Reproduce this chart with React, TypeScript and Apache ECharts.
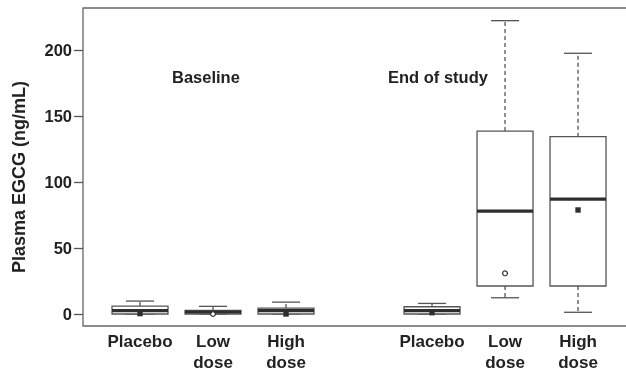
import React, { useEffect, useRef } from "react";
import * as echarts from "echarts";

const positions = [1, 2, 3, 5, 6, 7];
const groupLabels = ["Placebo", "Low\ndose", "High\ndose", "Placebo", "Low\ndose", "High\ndose"];
const mins = [0, 0, 0, 0, 12.3, 1.3];
const q1s = [0, 0, 0, 0, 21.2, 21.2];
const medians = [2.5, 1.5, 2.5, 2.5, 78, 87];
const q3s = [6, 2.7, 4.5, 5.5, 138.6, 134.3];
const maxs = [9.8, 5.8, 9, 8, 222.2, 197.5];
const means = [0.3, 0, 0, 1, 30.8, 78.8];
const meanMarkers = ["square", "circle", "square", "square", "circle", "square"];
const yTicks = [0, 50, 100, 150, 200];
const panelTitles = ["Baseline", "End of study"];
const yTitle = "Plasma EGCG (ng/mL)";

const FONT = "'Liberation Sans', Arial, sans-serif";
const LINE = "#555";
const DARK = "#2e2e2e";

export default function App() {
  const ref = useRef<HTMLDivElement>(null);
  useEffect(() => {
    const chart = echarts.init(ref.current!, null, { renderer: "svg" });
    const data = positions.map((p, i) => [
      p, mins[i], q1s[i], medians[i], q3s[i], maxs[i], means[i], meanMarkers[i] === "circle" ? 1 : 0,
    ]);
    const boxW = 0.767;
    const capW = 0.384;
    chart.setOption({
      animation: false,
      grid: {
        left: 83, top: 8, width: 560, height: 318,
        outerBoundsMode: "none", containLabel: false,
        show: true, borderColor: "#666", borderWidth: 1.3, backgroundColor: "#fff",
      },
      xAxis: {
        type: "value", min: 0.219, max: 7.89,
        axisLine: { show: false }, splitLine: { show: false },
        axisTick: { show: false },
        axisLabel: {
          customValues: positions,
          formatter: (v: number) => {
            const i = positions.indexOf(v);
            return i >= 0 ? groupLabels[i] : "";
          },
          fontFamily: FONT, fontWeight: "bold", fontSize: 17, color: "#222",
          lineHeight: 20.5, margin: 5.5, verticalAlign: "top",
        },
      },
      yAxis: {
        type: "value", min: -9.09, max: 231.8,
        axisLine: { show: false }, splitLine: { show: false },
        axisTick: { show: true, customValues: yTicks, length: 9, lineStyle: { color: LINE, width: 1.3 } },
        axisLabel: {
          customValues: yTicks, margin: 11,
          fontFamily: FONT, fontWeight: "bold", fontSize: 16.5, color: "#222",
        },
      },
      graphic: [
        { type: "text", left: 172, top: 68, style: { text: panelTitles[0], font: `bold 16.5px ${FONT}`, fill: "#222" } },
        { type: "text", left: 388, top: 68, style: { text: panelTitles[1], font: `bold 16.5px ${FONT}`, fill: "#222" } },
        {
          type: "text", x: 19, y: 177, rotation: Math.PI / 2,
          style: { text: yTitle, font: `bold 18px ${FONT}`, fill: "#222", align: "center", verticalAlign: "middle" },
        },
      ],
      series: [
        {
          type: "custom",
          data,
          renderItem: (params: any, api: any) => {
            const x = api.value(0);
            const c = (v: number) => api.coord([x, v]);
            const bw = api.size([boxW, 0])[0];
            const cw = api.size([capW, 0])[0];
            const pMin = c(api.value(1));
            const pQ1 = c(api.value(2));
            const pMed = c(api.value(3));
            const pQ3 = c(api.value(4));
            const pMax = c(api.value(5));
            const pMean = c(api.value(6));
            const shape = api.value(7);
            const px = pMin[0];
            const dashed = { stroke: LINE, lineWidth: 1.3, lineDash: [4, 3] };
            const solid = { stroke: LINE, lineWidth: 1.3 };
            const children: any[] = [
              { type: "line", shape: { x1: px, y1: pQ3[1], x2: px, y2: pMax[1] }, style: dashed },
              { type: "line", shape: { x1: px, y1: pQ1[1], x2: px, y2: pMin[1] }, style: dashed },
              { type: "line", shape: { x1: px - cw / 2, y1: pMax[1], x2: px + cw / 2, y2: pMax[1] }, style: solid },
              { type: "line", shape: { x1: px - cw / 2, y1: pMin[1], x2: px + cw / 2, y2: pMin[1] }, style: solid },
              {
                type: "rect",
                shape: { x: px - bw / 2, y: pQ3[1], width: bw, height: pQ1[1] - pQ3[1] },
                style: { fill: "#fff", stroke: LINE, lineWidth: 1.3 },
              },
              {
                type: "line",
                shape: { x1: px - bw / 2, y1: pMed[1], x2: px + bw / 2, y2: pMed[1] },
                style: { stroke: DARK, lineWidth: 3.2 },
              },
            ];
            if (shape === 1) {
              children.push({
                type: "circle", shape: { cx: px, cy: pMean[1], r: 2.4 },
                style: { fill: "#fff", stroke: DARK, lineWidth: 1.2 },
              });
            } else {
              children.push({
                type: "rect", shape: { x: px - 2.7, y: pMean[1] - 2.7, width: 5.4, height: 5.4 },
                style: { fill: DARK },
              });
            }
            return { type: "group", children };
          },
        },
      ],
    });
    return () => chart.dispose();
  }, []);
  return (
    <div
      ref={ref}
      style={{ position: "fixed", left: 0, top: 0, width: 626, height: 371 }}
    />
  );
}
